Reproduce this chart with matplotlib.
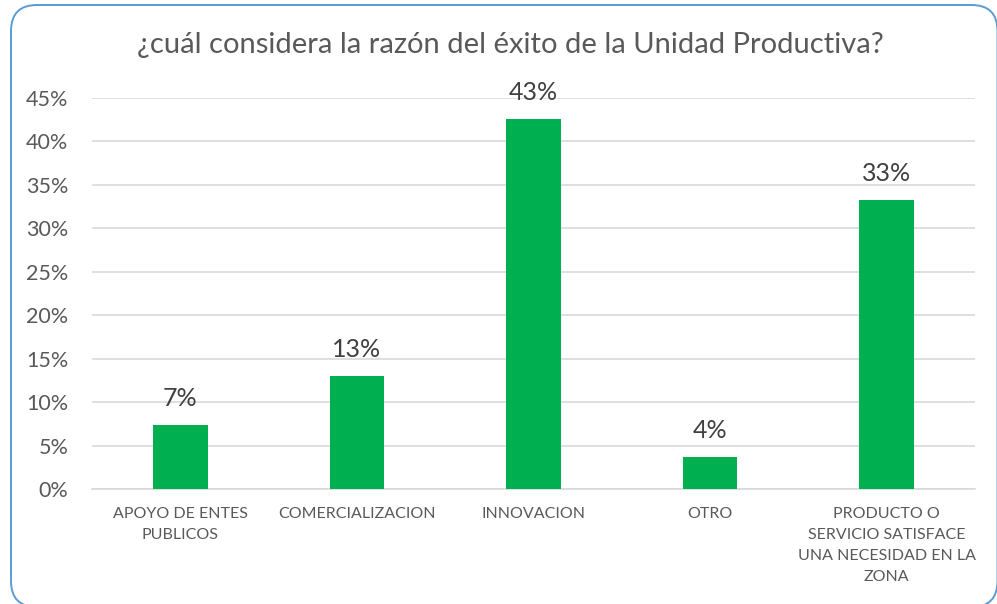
import matplotlib
matplotlib.use("Agg")
import matplotlib.pyplot as plt
from matplotlib.patches import FancyBboxPatch
from matplotlib.ticker import FuncFormatter, MultipleLocator

categories = ["APOYO DE ENTES\nPUBLICOS", "COMERCIALIZACION", "INNOVACION", "OTRO",
              "PRODUCTO O\nSERVICIO SATISFACE\nUNA NECESIDAD EN LA\nZONA"]
values = [7.4, 13.0, 42.6, 3.7, 33.3]
labels = ["7%", "13%", "43%", "4%", "33%"]
title = "¿cuál considera la razón del éxito de la Unidad Productiva?"

plt.rcParams['font.family'] = ['Lato', 'DejaVu Sans']
txt = "#595959"
W, H = 997, 604
fig = plt.figure(figsize=(W/100, H/100), dpi=100)
ax = fig.add_axes([92/W, 1-489/H, (975-92)/W, (489-98)/H])

x = range(len(categories))
ax.bar(x, values, width=0.31, color="#00B050", zorder=3)
for xi, v, l in zip(x, values, labels):
    ax.text(xi, v + 1.7, l, ha="center", va="bottom", fontsize=18, color="#404040")

ax.set_xlim(-0.5, len(categories) - 0.5)
ax.set_ylim(0, 45)
ax.yaxis.set_major_locator(MultipleLocator(5))
ax.yaxis.set_major_formatter(FuncFormatter(lambda v, p: f"{v:.0f}%"))
ax.grid(axis="y", color="#D9D9D9", linewidth=1.2, zorder=0)
for s in ["top", "right", "left"]:
    ax.spines[s].set_visible(False)
ax.spines["bottom"].set_color("#D9D9D9")
ax.spines["bottom"].set_linewidth(1.2)
ax.set_xticks(list(x))
ax.set_xticklabels(categories, fontsize=11.5, color=txt, linespacing=1.62, va="top")
ax.tick_params(axis="x", length=0, pad=13)
ax.tick_params(axis="y", length=0, labelsize=15.5, labelcolor=txt, pad=17)

fig.text(0.512, 1-45/H, title, ha="center", va="center", fontsize=21, color=txt)

# rounded border in pixel-like units (inches)
border = FancyBboxPatch((11/100, -3/100), (997.5-11)/100, (604+3-5)/100,
                        boxstyle="round,pad=0,rounding_size=0.26",
                        transform=fig.dpi_scale_trans, facecolor="none",
                        edgecolor="#5B9BD5", linewidth=1.4, clip_on=False)
fig.patches.append(border)

fig.savefig("out.png", dpi=100)
